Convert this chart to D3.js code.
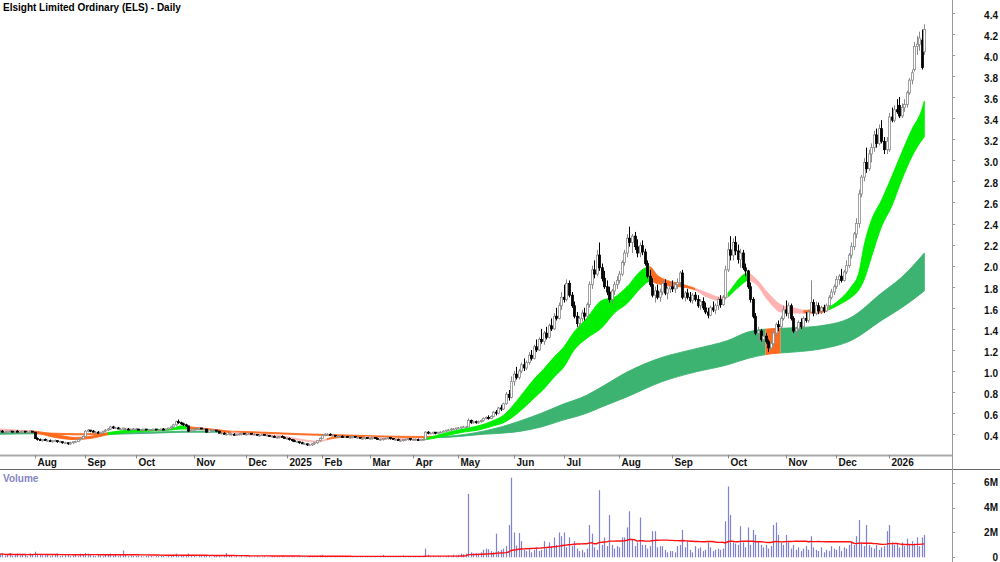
<!DOCTYPE html>
<html><head><meta charset="utf-8">
<script src="https://cdn.jsdelivr.net/npm/d3@7"></script>
<style>body{margin:0;background:#fff}svg{display:block}text{font-family:"Liberation Sans",Arial,sans-serif;font-weight:bold}</style>
</head><body><svg id="c" width="1000" height="562"></svg>
<script>
const title = "Elsight Limited Ordinary (ELS) - Daily";
const monthLabels = ["Jul","Aug","Sep","Oct","Nov","Dec","2025","Feb","Mar","Apr","May","Jun","Jul","Aug","Sep","Oct","Nov","Dec","2026"];
const monthBars = [14,20,20,23,21,16,14,19,17,18,22,20,22,21,22,23,20,21,15];
const priceTicks = [0.4,0.6,0.8,1.0,1.2,1.4,1.6,1.8,2.0,2.2,2.4,2.6,2.8,3.0,3.2,3.4,3.6,3.8,4.0,4.2,4.4];
const volTicks = [[0,"0"],[2,"2M"],[4,"4M"],[6,"6M"]];
// daily open, high, low, close in cents
const ohlc = [
[43,44,42,43],[43,44,42,42],[42,43,41,42],[42,43,42,43],[43,44,42,43],[43,43,42,42],[42,43,41,43],[43,44,42,42],[42,43,41,42],[42,43,42,43],[43,43,42,42],[42,43,41,42],[42,43,41,43],[43,43,42,42],
[42,42,36,36],[36,37,34,35],[35,36,34,34],[34,35,33,35],[35,36,34,34],[34,35,33,34],[34,35,33,33],[33,34,32,34],[34,35,33,34],[34,34,32,33],[33,34,32,33],[33,33,31,32],[32,33,31,32],[32,32,30,31],[31,33,30,32],[32,33,31,33],[33,34,32,33],[33,35,33,35],[35,37,34,36],[36,39,36,38],
[38,44,38,43],[43,45,42,44],[44,44,42,43],[43,44,42,42],[42,43,41,42],[42,43,41,41],[41,42,40,42],[42,43,41,43],[43,45,42,44],[44,46,43,45],[45,48,44,47],[47,48,45,46],[46,47,45,46],[46,47,45,45],[45,46,44,45],[45,46,44,46],[45,46,44,45],[45,46,44,44],[44,45,44,45],[45,46,44,45],
[45,46,44,45],[45,45,44,44],[44,45,43,44],[44,45,43,45],[45,45,44,44],[44,45,44,44],[44,45,43,44],[44,45,43,45],[45,45,44,44],[44,45,43,44],[44,45,43,45],[45,46,44,44],[44,45,44,45],[45,46,44,46],[46,48,45,47],[47,50,46,49],[49,53,48,52],[52,54,50,51],[51,52,49,50],[50,51,48,49],[49,50,47,48],[48,48,42,43],[43,45,42,44],
[44,46,43,45],[45,46,44,45],[45,46,44,46],[46,46,45,45],[45,46,44,45],[45,45,42,42],[42,44,42,44],[44,45,43,44],[44,45,43,44],[44,44,42,43],[43,43,41,41],[41,42,40,41],[41,42,40,40],[40,41,39,40],[40,41,39,41],[40,41,39,40],[40,41,39,39],[39,40,39,40],[40,41,39,40],[40,41,39,41],[41,41,40,40],
[40,41,39,40],[40,41,40,41],[41,41,40,40],[40,41,39,40],[40,40,39,39],[39,40,38,39],[39,40,39,40],[40,40,39,39],[39,40,38,39],[39,39,38,38],[38,39,37,38],[38,39,37,37],[37,38,36,37],[37,38,36,38],[38,39,37,37],[37,38,36,36],
[36,37,35,36],[36,37,34,35],[35,35,33,34],[34,35,33,33],[33,34,32,33],[33,33,31,32],[32,33,31,31],[31,32,30,31],[31,31,29,30],[30,31,29,30],[30,31,29,31],[31,33,30,32],[32,34,31,34],[34,37,33,36],
[36,40,36,39],[39,41,38,40],[40,41,39,40],[40,41,39,39],[39,40,38,39],[39,39,38,38],[38,39,37,38],[38,39,37,38],[38,39,37,37],[37,38,37,38],[38,38,37,37],[37,38,36,37],[37,38,36,38],[38,38,37,37],[37,38,36,37],[37,37,36,36],[36,37,35,36],[36,37,35,37],[37,37,36,36],
[36,37,35,36],[36,37,35,37],[37,37,36,36],[36,37,35,35],[35,36,34,35],[35,36,34,36],[36,37,35,36],[36,37,35,37],[37,37,35,36],[36,36,35,35],[35,36,34,35],[35,36,34,34],[34,35,33,34],[34,35,33,35],[35,36,34,35],[35,36,34,36],[36,36,34,35],
[35,36,34,35],[35,36,34,35],[35,36,34,34],[34,35,34,35],[35,36,34,35],[35,43,35,42],[42,43,40,41],[41,42,40,41],[41,42,40,42],[42,42,40,41],[41,42,40,42],[42,43,41,42],[42,44,42,43],[43,44,42,44],[44,45,43,44],[44,46,43,45],[45,46,44,45],[45,46,44,46],
[46,47,45,46],[46,47,45,47],[47,48,46,47],[47,48,46,47],[47,55,47,53],[53,54,50,51],[51,53,50,52],[52,53,50,51],[51,53,50,52],[52,54,51,53],[53,56,52,55],[55,57,54,56],[56,58,54,55],[55,58,55,57],[57,62,56,61],[61,63,58,60],[60,66,59,65],[65,68,62,64],[64,70,63,69],[69,80,68,78],[78,82,72,75],[75,95,74,90],
[90,100,86,97],[97,104,92,94],[94,102,92,100],[100,108,98,106],[106,112,100,103],[103,110,101,108],[108,118,106,115],[115,120,110,112],[112,125,111,123],[123,130,118,120],[120,132,119,130],[130,140,126,128],[128,138,125,136],[136,142,130,132],[132,145,131,143],[143,150,138,140],[140,155,139,152],[152,160,148,150],[150,165,149,162],[162,175,158,170],
[170,182,165,168],[168,187,166,183],[183,186,170,172],[172,175,160,162],[162,166,150,152],[152,156,142,145],[145,152,140,150],[150,158,147,155],[155,160,148,152],[152,165,150,163],[163,185,160,182],[182,200,178,196],[196,205,188,192],[192,215,190,210],[210,222,195,198],[198,202,185,188],[188,195,178,180],[180,186,172,175],[175,180,165,168],[168,178,164,176],[176,185,172,182],[182,190,178,186],
[186,195,183,192],[192,205,190,203],[203,215,200,212],[212,230,208,226],[226,237,218,222],[222,230,212,228],[228,232,215,218],[218,225,208,212],[212,222,208,219],[219,224,210,213],[213,216,200,202],[202,205,188,190],[190,196,180,182],[182,188,170,172],[172,180,165,176],[176,182,168,170],[170,178,166,175],[175,186,172,183],[183,187,172,174],[174,180,168,178],[178,185,174,180],
[180,186,175,178],[178,184,174,182],[182,188,178,184],[184,195,180,193],[193,196,168,170],[170,176,166,174],[174,178,168,170],[170,175,165,167],[167,174,164,172],[172,175,166,168],[168,172,160,162],[162,168,158,166],[166,170,158,160],[160,165,154,156],[156,160,150,153],[153,162,152,160],[160,166,156,158],[158,164,154,162],[162,170,158,168],[168,172,160,163],[163,172,162,170],[170,200,168,196],
[196,222,194,215],[215,228,205,210],[210,226,205,222],[222,228,210,214],[214,220,202,206],[206,216,198,212],[212,215,196,198],[198,202,190,195],[195,196,178,180],[180,184,165,168],[168,170,150,152],[152,155,134,136],[136,142,128,138],[138,140,128,130],[130,136,124,133],[133,136,126,128],[128,130,118,122],[122,128,120,126],[126,138,124,136],[136,146,134,144],[144,148,138,142],[142,152,140,150],[150,162,148,158],
[158,167,152,155],[155,165,150,162],[162,164,148,150],[150,152,136,138],[138,142,132,140],[140,148,138,146],[146,150,140,142],[142,152,141,150],[150,156,146,148],[148,158,146,156],[156,186,155,165],[165,168,152,155],[155,166,153,162],[162,165,154,157],[157,162,154,160],[160,163,155,157],[157,164,156,162],[162,172,160,170],[170,178,168,175],[175,182,172,180],
[180,190,178,187],[187,192,182,190],[190,197,184,186],[186,196,185,194],[194,205,192,200],[200,212,198,210],[210,222,207,218],[218,232,215,230],[230,245,226,240],[240,272,236,268],[268,286,265,284],[284,302,280,298],[298,312,288,292],[292,310,290,306],[306,316,298,312],[312,328,308,324],[324,330,312,316],[316,334,314,330],[330,338,316,318],[318,322,306,310],[310,322,306,318],
[310,345,308,341],[341,350,336,338],[338,352,336,348],[348,358,344,346],[352,360,340,342],[342,354,340,350],[350,358,346,353],[353,366,350,364],[364,378,362,376],[376,386,372,383],[386,412,384,408],[408,418,400,410],[410,422,404,416],[414,424,386,388],[403,429,400,424]
];
// daily volume in millions
const volume = [
.25,.3,.15,.2,.35,.1,.2,.3,.15,.25,.2,.1,.3,.2,
.45,.3,.2,.15,.25,.2,.1,.15,.2,.3,.1,.15,.2,.25,.1,.15,.2,.1,.3,.25,
.35,.3,.2,.15,.1,.2,.15,.1,.2,.25,.3,.15,.2,.1,.15,.55,.2,.1,.15,.1,
.1,.15,.1,.05,.1,.15,.1,.05,.1,.1,.15,.1,.05,.1,.15,.2,.3,.2,.15,.1,.1,.3,.15,
.1,.05,.1,.15,.1,.2,.1,.05,.1,.15,.1,.05,.1,.35,.1,.1,.05,.1,.05,.1,.05,
.05,.1,.05,.05,.1,.05,.05,.1,.05,.05,.05,.1,.05,.05,.1,.05,
.05,.05,.1,.05,.05,.1,.05,.05,.1,.05,.1,.05,.1,.15,
.2,.1,.05,.1,.05,.05,.1,.05,.05,.1,.05,.05,.1,.05,.05,.1,.05,.05,.1,
.05,.05,.1,.05,.05,.2,.05,.05,.1,.05,.05,.05,.1,.15,.05,.05,.1,
.05,.1,.05,.1,.05,.7,.2,.1,.1,.05,.1,.1,.05,.1,.15,.1,.2,.15,
.2,.3,.25,.3,5.1,.4,.3,.35,.3,.4,.6,.7,.65,.5,.4,1.9,.5,.6,.7,.9,2.6,6.4,
2.0,.95,1.95,1.3,.6,.5,.7,.4,.6,.8,.5,.6,1.3,.7,1.2,.9,1.6,1.0,2.0,1.7,
2.0,.8,1.6,.9,1.3,.7,.5,.6,.4,.7,2.6,1.9,.8,.6,5.4,1.0,1.6,.9,3.4,1.0,.7,.9,
.8,1.6,1.6,2.4,3.7,1.4,.9,1.2,3.2,1.0,1.0,.7,.9,2.1,2.1,.8,.9,.9,.6,.4,.5,
.5,.4,.9,1.0,2.2,.8,1.3,.6,.4,.9,.7,.8,.5,.6,1.2,.8,.5,.6,.7,.6,.7,2.9,
5.7,3.4,1.2,1.1,1.0,2.5,1.2,.8,2.4,1.0,2.2,1.8,1.3,1.0,.8,1.0,.7,.9,2.6,2.8,1.8,1.2,1.0,
1.8,1.2,.7,1.0,.6,.8,.5,.7,.9,.6,1.7,.8,.6,.5,.8,.4,.6,.5,.9,.7,
.6,.9,.5,.8,.7,1.0,1.2,1.0,1.7,3.0,1.2,.9,2.6,1.0,.8,.7,1.0,.6,.8,.9,2.1,
2.6,1.2,1.0,1.1,.8,1.2,.9,1.5,1.0,1.3,1.1,1.6,.9,1.6,1.8
];
// short-term MA ribbon: [bar, upper, lower]
const shortRibbon = [[0,.45,.43],[7,.44,.43],[14,.43,.415],[22,.40,.37],[30,.37,.35],[36,.38,.36],[44,.42,.40],[52,.44,.42],[60,.445,.43],[68,.45,.44],[72,.48,.45],[76,.47,.45],[80,.46,.445],[88,.44,.43],[96,.41,.40],[104,.40,.39],[112,.385,.375],[120,.35,.34],[126,.335,.325],[132,.37,.36],[140,.385,.375],[150,.37,.36],[160,.36,.35],[167,.355,.345],[172,.38,.36],[178,.42,.39],[184,.45,.42],[190,.48,.44],[196,.53,.48],[200,.58,.51],[204,.68,.57],[208,.80,.65],[212,.92,.74],[216,1.02,.83],[220,1.13,.94],[224,1.23,1.04],[228,1.37,1.20],[233,1.50,1.31],[239,1.67,1.41],[244,1.70,1.55],[249,1.80,1.64],[255,1.96,1.80],[258,1.99,1.85],[261,1.91,1.83],[265,1.86,1.81],[270,1.83,1.80],[276,1.785,1.77],[281,1.74,1.70],[286,1.70,1.67],[289,1.74,1.70],[292,1.83,1.77],[294,1.89,1.81],[297,1.93,1.86],[300,1.88,1.83],[305,1.74,1.67],[310,1.63,1.56],[315,1.60,1.55],[320,1.575,1.55],[325,1.60,1.55],[329,1.61,1.58],[334,1.69,1.64],[338,1.80,1.70],[341,1.93,1.77],[343,2.18,1.86],[346,2.43,2.08],[350,2.62,2.37],[354,2.84,2.56],[358,3.07,2.81],[362,3.29,3.03],[366,3.48,3.19],[367,3.56,3.22]];
const shortColors = [[0,12,"p"],[12,43,"o"],[43,75,"g"],[75,92,"o"],[92,130,"p"],[130,145,"o"],[145,168,"p"],[168,258,"g"],[258,276,"o"],[276,289,"p"],[289,297,"g"],[297,319,"p"],[319,329,"o"],[329,367,"g"]];
// long-term MA ribbon: [bar, upper, lower]
const longRibbon = [[0,.415,.40],[14,.415,.405],[30,.405,.395],[45,.41,.40],[60,.42,.41],[75,.43,.42],[90,.43,.42],[105,.42,.41],[120,.405,.395],[135,.395,.385],[150,.385,.375],[165,.38,.37],[175,.38,.37],[185,.40,.385],[192,.43,.40],[199,.47,.41],[207,.53,.43],[215,.60,.47],[223,.68,.53],[233,.77,.60],[239,.85,.66],[249,.99,.755],[263,1.13,.90],[276,1.21,.99],[289,1.29,1.06],[297,1.37,1.12],[305,1.40,1.16],[315,1.41,1.18],[326,1.43,1.21],[338,1.51,1.29],[350,1.74,1.48],[358,1.89,1.60],[367,2.12,1.76]];
const longColors = [[0,14,"d"],[14,40,"o"],[40,88,"d"],[88,172,"o"],[172,304,"d"],[304,310,"o"],[310,367,"d"]];
const volMAPeriod = 50;

const svg = d3.select("#c");
const N = ohlc.length;
const axisX = 952.5;
const x = d3.scaleLinear().domain([0, N - 1]).range([-0.5, 924.3]);
const y = d3.scaleLinear().domain([0.4, 4.4]).range([434.3, 12.7]);
const yv = d3.scaleLinear().domain([0, 6]).range([557.3, 482.7]);
const colorMap = {g: "#00ee00", o: "#ff6a1e", p: "#ffb3b3", d: "#3cb371"};

svg.append("rect").attr("width", 1000).attr("height", 562).attr("fill", "#fff");
const defs = svg.append("defs");
defs.append("clipPath").attr("id", "pclip").append("rect").attr("x", 0).attr("y", 0).attr("width", 952).attr("height", 454);
const gP = svg.append("g").attr("clip-path", "url(#pclip)");

function ribbon(samples, segs, key) {
  const area = d3.area().x(d => x(d[0])).y0(d => y(d[2])).y1(d => y(d[1])).curve(d3.curveMonotoneX);
  const dPath = area(samples);
  segs.forEach((s, k) => {
    const id = key + k;
    const x0 = s[0] === 0 ? -10 : x(s[0]);
    const x1 = s[1] === N - 1 ? 960 : x(s[1]);
    defs.append("clipPath").attr("id", id).append("rect").attr("x", x0).attr("y", 0).attr("width", x1 - x0).attr("height", 460);
    gP.append("g").attr("clip-path", `url(#${id})`).append("path")
      .attr("d", dPath).attr("fill", colorMap[s[2]]).attr("stroke", colorMap[s[2]]).attr("stroke-width", 0.9);
  });
}
ribbon(longRibbon, longColors, "lr");
ribbon(shortRibbon, shortColors, "sr");

const gC = gP.append("g");
ohlc.forEach((r, i) => {
  const [o, h, l, c] = r.map(v => v / 100);
  const up = c >= o;
  const col = up ? "#8a8a8a" : "#000";
  const cx = Math.round(x(i)) + 0.5;
  gC.append("line").attr("x1", cx).attr("x2", cx).attr("y1", y(h)).attr("y2", y(l)).attr("stroke", col).attr("stroke-width", 1);
  const yt = y(Math.max(o, c)), yb = y(Math.min(o, c));
  gC.append("rect").attr("x", cx - 1).attr("y", yt).attr("width", 2).attr("height", Math.max(yb - yt, 0.6))
    .attr("fill", up ? "#fff" : "#000").attr("stroke", col).attr("stroke-width", 0.8);
});

// panel frame
svg.append("rect").attr("x", 0).attr("y", 454.5).attr("width", 952).attr("height", 2).attr("fill", "#a9a9a9");
svg.append("line").attr("x1", 0).attr("x2", 1000).attr("y1", 469.5).attr("y2", 469.5).attr("stroke", "#666");
svg.append("line").attr("x1", axisX).attr("x2", axisX).attr("y1", 0).attr("y2", 562).attr("stroke", "#999");

// title
svg.append("text").attr("x", 3).attr("y", 11).attr("font-size", 10).attr("fill", "#000").text(title);

// price axis
priceTicks.forEach(v => {
  svg.append("line").attr("x1", axisX).attr("x2", axisX + 2.5).attr("y1", Math.round(y(v)) + 0.5).attr("y2", Math.round(y(v)) + 0.5).attr("stroke", "#999");
  svg.append("text").attr("x", 998).attr("y", y(v) + 5.8).attr("text-anchor", "end").attr("font-size", 10).attr("fill", "#111").text(d3.format(".1f")(v));
});

// month axis
let start = 0;
monthBars.forEach((n, k) => {
  if (k > 0) {
    const tx = Math.round(x(start)) + 0.5;
    svg.append("line").attr("x1", tx).attr("x2", tx).attr("y1", 455).attr("y2", 458.5).attr("stroke", "#888");
    svg.append("text").attr("x", tx + 2).attr("y", 466).attr("font-size", 10).attr("fill", "#111").text(monthLabels[k]);
  }
  start += n;
});

// volume panel
svg.append("text").attr("x", 3).attr("y", 482).attr("font-size", 10).attr("fill", "#8585c5").text("Volume");
const gV = svg.append("g");
volume.forEach((v, i) => {
  const cx = Math.round(x(i)) + 0.5;
  gV.append("rect").attr("x", cx - 0.6).attr("width", 1.2).attr("y", yv(v)).attr("height", yv(0) - yv(v)).attr("fill", "#8282d2");
});
const ma = volume.map((v, i) => {
  const w = volume.slice(Math.max(0, i - volMAPeriod + 1), i + 1);
  return d3.mean(w);
});
svg.append("path").attr("d", d3.line().x((d, i) => x(i)).y(d => yv(d))(ma)).attr("fill", "none").attr("stroke", "#ff1010").attr("stroke-width", 1.4);
volTicks.forEach(([v, lab]) => {
  svg.append("line").attr("x1", axisX).attr("x2", axisX + 2.5).attr("y1", Math.round(yv(v)) + 0.5).attr("y2", Math.round(yv(v)) + 0.5).attr("stroke", "#999");
  svg.append("text").attr("x", 998).attr("y", yv(v) + 3.6).attr("text-anchor", "end").attr("font-size", 10).attr("fill", "#111").text(lab);
});
</script></body></html>
